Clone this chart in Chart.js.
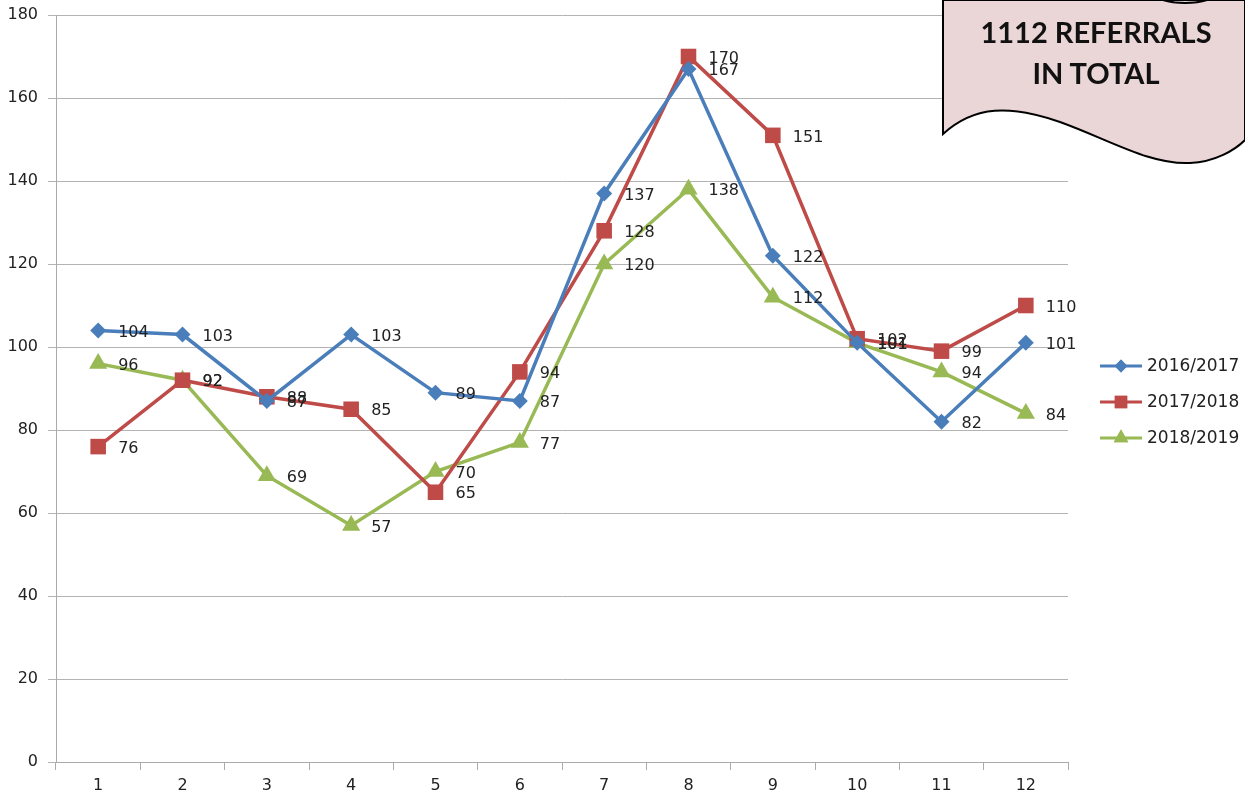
<!DOCTYPE html>
<html>
<head>
<meta charset="utf-8">
<script src="https://cdn.jsdelivr.net/npm/chart.js@4.4.1/dist/chart.umd.min.js"></script>
<style>
  html, body { margin: 0; padding: 0; background: #fff; }
  #wrap { position: relative; width: 1245px; height: 799px; }
  #badge { position: absolute; left: 0; top: 0; }
</style>
</head>
<body>
<div id="wrap">
  <canvas id="referrals-chart" width="1245" height="799"></canvas>
  <svg id="badge" width="1245" height="799" viewBox="0 0 1245 799">
    <path d="M943,0 L943,134 C975,105 1010,105 1060,122 C1110,140 1150,165 1190,163 C1215,162 1235,150 1245,140 L1245,0 Z"
          fill="#ead5d7" stroke="#000" stroke-width="2"/>
    <path d="M1163,0 C1175,4 1195,4 1207,0" fill="none" stroke="#000" stroke-width="2"/>
    <text x="1096" y="43" text-anchor="middle" font-family="Lato" font-weight="bold" font-size="29" fill="#111">1112 REFERRALS</text>
    <text x="1096" y="84" text-anchor="middle" font-family="Lato" font-weight="bold" font-size="29" fill="#111">IN TOTAL</text>
  </svg>
</div>
<script>
var months = ['1', '2', '3', '4', '5', '6', '7', '8', '9', '10', '11', '12'];
var season1617 = [104, 103, 87, 103, 89, 87, 137, 167, 122, 101, 82, 101];
var season1718 = [76, 92, 88, 85, 65, 94, 128, 170, 151, 102, 99, 110];
var season1819 = [96, 92, 69, 57, 70, 77, 120, 138, 112, 101, 94, 84];
var seriesNames = ['2016/2017', '2017/2018', '2018/2019'];

var textFont = '"DejaVu Sans", Verdana, sans-serif';

// value labels to the right of every point
var valueLabels = {
  id: 'valueLabels',
  afterDatasetsDraw: function(chart) {
    var ctx = chart.ctx;
    ctx.save();
    ctx.font = '16px ' + textFont;
    ctx.fillStyle = '#222';
    ctx.textAlign = 'left';
    ctx.textBaseline = 'middle';
    chart.data.datasets.forEach(function(ds, i) {
      chart.getDatasetMeta(i).data.forEach(function(pt, j) {
        ctx.fillText(ds.data[j], pt.x + 20, pt.y + 2);
      });
    });
    ctx.restore();
  }
};

// legend in excel style: line with marker in the middle
var sideLegend = {
  id: 'sideLegend',
  afterDraw: function(chart) {
    var ctx = chart.ctx;
    ctx.save();
    chart.data.datasets.forEach(function(ds, i) {
      var y = 366 + i * 36;
      ctx.strokeStyle = ds.borderColor;
      ctx.lineWidth = 3;
      ctx.beginPath();
      ctx.moveTo(1100, y);
      ctx.lineTo(1142, y);
      ctx.stroke();
      ctx.fillStyle = ds.borderColor;
      Chart.helpers.drawPoint(ctx, { pointStyle: ds.pointStyle, radius: ds.pointRadius * 0.8, borderWidth: 0 }, 1121, y);
      ctx.fill();
      ctx.fillStyle = '#222';
      ctx.font = '17px ' + textFont;
      ctx.textBaseline = 'middle';
      ctx.fillText(ds.label, 1147, y + 1);
    });
    ctx.restore();
  }
};

var ctx = document.getElementById('referrals-chart').getContext('2d');
var chart = new Chart(ctx, {
  type: 'line',
  data: {
    labels: months,
    datasets: [
      { label: seriesNames[0], data: season1617, borderColor: '#4a7ebb', backgroundColor: '#4a7ebb',
        pointStyle: 'rectRot', pointRadius: 8, borderWidth: 3.5, pointBorderWidth: 0 },
      { label: seriesNames[1], data: season1718, borderColor: '#be4b48', backgroundColor: '#be4b48',
        pointStyle: 'rect', pointRadius: 11, borderWidth: 3.5, pointBorderWidth: 0 },
      { label: seriesNames[2], data: season1819, borderColor: '#98b954', backgroundColor: '#98b954',
        pointStyle: 'triangle', pointRadius: 10.5, borderWidth: 3.5, pointBorderWidth: 0 }
    ]
  },
  options: {
    responsive: false,
    animation: false,
    layout: { padding: { top: 15, right: 177, left: 0, bottom: 0 } },
    plugins: { legend: { display: false }, tooltip: { enabled: false } },
    elements: { line: { tension: 0 } },
    scales: {
      x: {
        offset: true,
        grid: { offset: true, drawOnChartArea: false, color: '#aaa', tickLength: 8 },
        border: { color: '#aaa', width: 1 },
        ticks: { color: '#222', font: { family: textFont, size: 16 }, padding: 6, maxRotation: 0 },
        afterFit: function(scale) {
          scale.height = 37;
          scale.paddingLeft = 0;
          scale.paddingRight = 0;
        }
      },
      y: {
        min: 0,
        max: 180,
        ticks: { stepSize: 20, color: '#222', font: { family: textFont, size: 16 }, padding: 10 },
        grid: { color: '#b3b3b3', tickLength: 8 },
        border: { color: '#aaa', width: 1 },
        afterFit: function(scale) {
          scale.width = 56;
          scale.paddingTop = 0;
          scale.paddingBottom = 0;
        }
      }
    }
  },
  plugins: [valueLabels, sideLegend]
});
</script>
</body>
</html>
